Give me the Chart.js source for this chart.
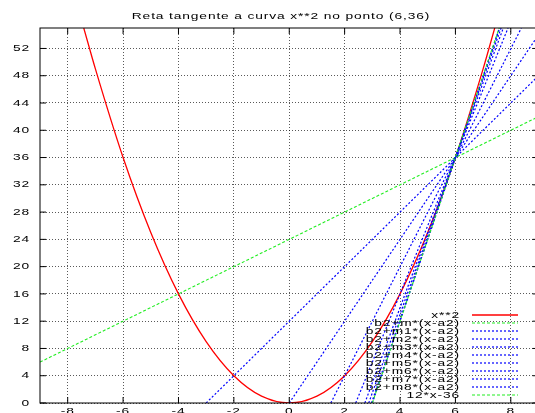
<!DOCTYPE html>
<html>
<head>
<meta charset="utf-8">
<script src="https://cdn.jsdelivr.net/npm/chart.js@4"></script>
<style>
  html, body { margin: 0; padding: 0; overflow: hidden; background: #fff; }
  #wrap { width: 560px; height: 430px; }
</style>
</head>
<body>
<div id="wrap"><canvas id="myChart" width="560" height="430"></canvas></div>
<script>
var chartTitle = 'Reta tangente a curva x**2 no ponto (6,36)';
var xTicks = [-8, -6, -4, -2, 0, 2, 4, 6, 8];
var yTicks = [0, 4, 8, 12, 16, 20, 24, 28, 32, 36, 40, 44, 48, 52];
var xMin = -9, xMax = 9, yMin = 0, yMax = 55;

// parabola x**2, points
var curveLabel = 'x**2';
var curveX = [-7.42, -7, -6, -5, -4, -3, -2, -1, 0, 1, 2, 3, 4, 5, 6, 7, 7.42];
var curveY = [55, 49, 36, 25, 16, 9, 4, 1, 0, 1, 4, 9, 16, 25, 36, 49, 55];

// secant lines through (6,36) and the tangent, start and end points
var lineLabels = ['b2+m*(x-a2)', 'b2+m1*(x-a2)', 'b2+m2*(x-a2)', 'b2+m3*(x-a2)', 'b2+m4*(x-a2)',
                  'b2+m5*(x-a2)', 'b2+m6*(x-a2)', 'b2+m7*(x-a2)', 'b2+m8*(x-a2)', '12*x-36'];
var lineX0 = [-9, -3, 0, 1.5, 2.4, 2.73, 2.87, 2.97, 3, 3];
var lineY0 = [6, 0, 0, 0, 0, 0, 0, 0, 0, 0];
var lineX1 = [9, 9, 9, 8.38, 7.9, 7.73, 7.65, 7.6, 7.59, 7.58];
var lineY1 = [42, 48, 54, 55, 55, 55, 55, 55, 55, 55];

var green = '#22ee22';
var blue = '#0000ff';
var red = '#ff0000';

function lineStyle(i) {
    if (i === 0 || i === lineLabels.length - 1) return { color: green, dash: [3, 2], width: 1.1 };
    return { color: blue, dash: [2, 2], width: 1.2 };
}

var datasets = [{
    label: curveLabel,
    data: curveX.map((x, i) => ({ x: x, y: curveY[i] })),
    borderColor: red,
    borderWidth: 1.3,
    cubicInterpolationMode: 'monotone',
    pointRadius: 0,
    order: lineLabels.length + 1
}];
lineLabels.forEach(function(lbl, i) {
    var st = lineStyle(i);
    datasets.push({
        label: lbl,
        data: [{ x: lineX0[i], y: lineY0[i] }, { x: lineX1[i], y: lineY1[i] }],
        borderColor: st.color,
        borderDash: st.dash,
        borderWidth: st.width,
        pointRadius: 0,
        order: lineLabels.length - i
    });
});

function drawText(ctx, text, x, y, align) {
    ctx.save();
    ctx.font = '9.5px "Liberation Sans", Arial, sans-serif';
    ctx.letterSpacing = '0.6px';
    ctx.fillStyle = '#000';
    ctx.textAlign = align;
    ctx.textBaseline = 'middle';
    ctx.translate(x, y);
    ctx.scale(1.45, 1);
    ctx.fillText(text, 0, 0);
    ctx.restore();
}

var framePlugin = {
    id: 'frame',
    afterDraw: function(chart) {
        var ctx = chart.ctx;
        var a = chart.chartArea;
        var xs = chart.scales.x, ys = chart.scales.y;
        ctx.save();
        ctx.strokeStyle = '#000';
        ctx.lineWidth = 1;
        ctx.setLineDash([]);
        ctx.strokeRect(a.left, a.top, a.right - a.left, a.bottom - a.top);
        ctx.beginPath();
        xTicks.forEach(function(v) {
            var px = xs.getPixelForValue(v);
            ctx.moveTo(px, a.bottom); ctx.lineTo(px, a.bottom - 6);
            ctx.moveTo(px, a.top); ctx.lineTo(px, a.top + 6);
        });
        yTicks.forEach(function(v) {
            var py = ys.getPixelForValue(v);
            ctx.moveTo(a.left, py); ctx.lineTo(a.left + 6, py);
            ctx.moveTo(a.right, py); ctx.lineTo(a.right - 6, py);
        });
        ctx.stroke();
        ctx.restore();

        xTicks.forEach(function(v) {
            drawText(ctx, String(v), xs.getPixelForValue(v), a.bottom + 8.5, 'center');
        });
        yTicks.forEach(function(v) {
            drawText(ctx, String(v), a.left - 10, ys.getPixelForValue(v), 'right');
        });
        drawText(ctx, chartTitle, 281, 16, 'center');

        // key, bottom right
        var rowY = 315, rowH = 8;
        var entries = [{ label: curveLabel, color: red, dash: [], width: 1.5 }];
        lineLabels.forEach(function(lbl, i) {
            var st = lineStyle(i);
            entries.push({ label: lbl, color: st.color, dash: st.dash, width: st.width });
        });
        entries.forEach(function(e, i) {
            var y = rowY + i * rowH;
            drawText(ctx, e.label, 460, y, 'right');
            ctx.save();
            ctx.strokeStyle = e.color;
            ctx.lineWidth = e.width;
            ctx.setLineDash(e.dash);
            ctx.beginPath();
            ctx.moveTo(472, y);
            ctx.lineTo(518, y);
            ctx.stroke();
            ctx.restore();
        });
    }
};

var ctx = document.getElementById('myChart').getContext('2d');
var myChart = new Chart(ctx, {
    type: 'line',
    data: { datasets: datasets },
    plugins: [framePlugin],
    options: {
        responsive: false,
        animation: false,
        devicePixelRatio: 1,
        layout: { padding: { left: 40, top: 28, right: 21.5, bottom: 27 } },
        plugins: { legend: { display: false }, title: { display: false }, tooltip: { enabled: false } },
        scales: {
            x: {
                type: 'linear',
                min: xMin, max: xMax,
                afterBuildTicks: function(s) { s.ticks = xTicks.map(v => ({ value: v })); },
                afterFit: function(s) { s.height = 0; },
                ticks: { display: false },
                grid: { drawTicks: false, color: 'rgba(0,0,0,0.65)', lineWidth: 1 },
                border: { display: false, dash: [1, 2] }
            },
            y: {
                type: 'linear',
                min: yMin, max: yMax,
                afterBuildTicks: function(s) { s.ticks = yTicks.map(v => ({ value: v })); },
                afterFit: function(s) { s.width = 0; },
                ticks: { display: false },
                grid: { drawTicks: false, color: 'rgba(0,0,0,0.65)', lineWidth: 1 },
                border: { display: false, dash: [1, 2] }
            }
        }
    }
});
</script>
</body>
</html>
